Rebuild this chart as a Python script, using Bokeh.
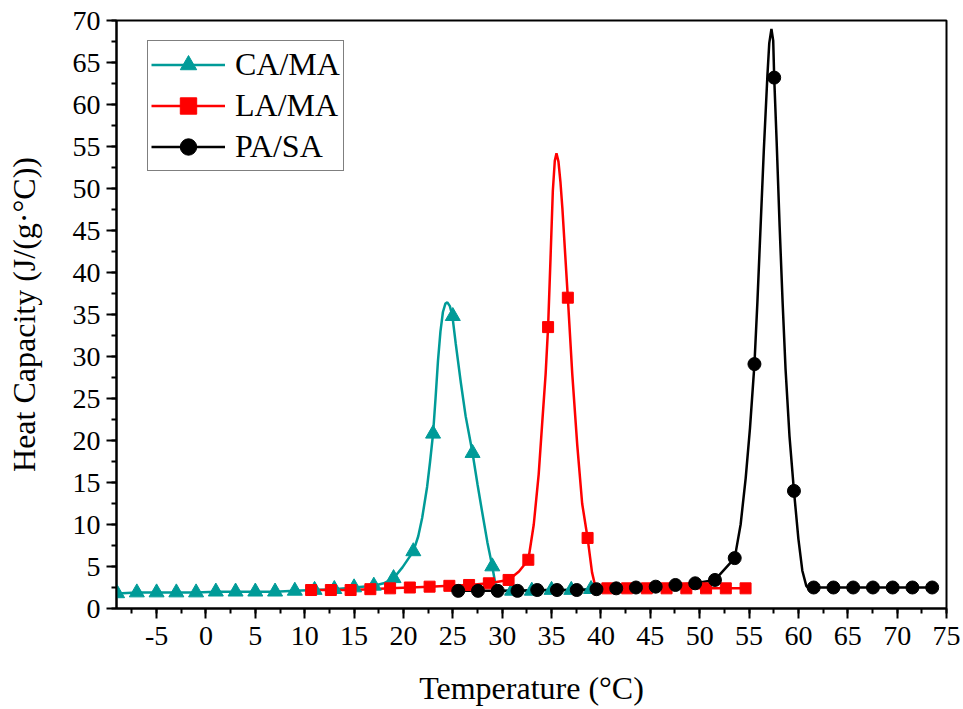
from bokeh.plotting import figure
from bokeh.models import Range1d, SingleIntervalTicker, Legend, LegendItem
from bokeh.embed import file_html
from bokeh.resources import INLINE

# ---------------- data ----------------
series_names = ["CA/MA", "LA/MA", "PA/SA"]

# CA/MA markers
ca_marker_x = [-9, -7, -5, -3, -1, 1, 3, 5, 7, 9, 11, 13, 15, 17, 19, 21, 23, 25, 27, 29, 31, 33, 35, 37, 39]
ca_marker_y = [1.8, 1.9, 1.9, 1.9, 1.9, 2.0, 2.0, 2.0, 2.0, 2.1, 2.2, 2.3, 2.5, 2.7, 3.6, 6.8, 20.8, 34.8, 18.5, 5.0, 2.1, 2.1, 2.2, 2.2, 2.3]
# CA/MA curve
ca_line_x = [-9, -7, -5, -3, -1, 1, 3, 5, 7, 9, 11, 13, 15, 17, 18, 19, 19.9, 21, 21.5, 21.9, 22.4, 22.7, 23, 23.25, 23.5,
             23.75, 24.0, 24.25, 24.45, 24.7, 24.95, 25.3, 25.8, 26.3, 27, 27.5, 28, 28.5, 29, 29.3, 29.6, 30, 31, 33, 35, 37, 39]
ca_line_y = [1.8, 1.9, 1.9, 1.9, 1.9, 2.0, 2.0, 2.0, 2.0, 2.1, 2.2, 2.3, 2.5, 2.7, 3.0, 3.6, 4.9, 6.8, 8.6, 10.8, 14.5, 17.5, 20.8, 25.0, 29.5,
             33.0, 35.3, 36.3, 36.45, 36.0, 34.9, 31.5, 27.0, 22.9, 18.5, 14.8, 11.3, 7.9, 5.0, 3.0, 2.2, 2.1, 2.1, 2.1, 2.2, 2.2, 2.3]

# LA/MA markers
la_marker_x = [10.65, 12.65, 14.65, 16.65, 18.65, 20.65, 22.65, 24.65, 26.65, 28.65, 30.65, 32.65, 34.65, 36.65, 38.65,
               40.65, 42.65, 44.65, 46.65, 48.65, 50.65, 52.65, 54.65]
la_marker_y = [2.2, 2.2, 2.2, 2.3, 2.4, 2.5, 2.6, 2.7, 2.8, 3.0, 3.4, 5.8, 33.5, 37.0, 8.4,
               2.4, 2.4, 2.4, 2.4, 2.4, 2.4, 2.4, 2.4]
# LA/MA curve
la_line_x = [10.65, 12.65, 14.65, 16.65, 18.65, 20.65, 22.65, 24.65, 26.65, 28.65, 30.65, 31.7, 32.65, 33.2, 33.7, 34.05,
             34.4, 34.65, 34.9, 35.13, 35.33, 35.5, 35.7, 35.9, 36.1, 36.65, 37.1, 37.6, 38.1, 38.65, 39.1, 39.4, 39.8,
             40.65, 42.65, 44.65, 46.65, 48.65, 50.65, 52.65, 54.65]
la_line_y = [2.2, 2.2, 2.2, 2.3, 2.4, 2.5, 2.6, 2.7, 2.8, 3.0, 3.4, 4.4, 5.8, 10.0, 16.0, 22.0,
             27.9, 33.5, 41.8, 49.7, 53.3, 54.2, 53.2, 50.8, 47.6, 37.0, 27.9, 19.5, 12.5, 8.4, 4.3, 2.8, 2.4,
             2.4, 2.4, 2.4, 2.4, 2.4, 2.4, 2.4, 2.4]

# PA/SA markers
pa_marker_x = [25.55, 27.55, 29.55, 31.55, 33.55, 35.55, 37.55, 39.55, 41.55, 43.55, 45.55, 47.55, 49.55, 51.55, 53.55,
               55.55, 57.55, 59.55, 61.55, 63.55, 65.55, 67.55, 69.55, 71.55, 73.55]
pa_marker_y = [2.1, 2.1, 2.1, 2.1, 2.2, 2.2, 2.2, 2.3, 2.4, 2.5, 2.6, 2.8, 3.0, 3.4, 6.0,
               29.1, 63.2, 14.0, 2.5, 2.5, 2.5, 2.5, 2.5, 2.5, 2.5]
# PA/SA curve
pa_line_x = [25.55, 27.55, 29.55, 31.55, 33.55, 35.55, 37.55, 39.55, 41.55, 43.55, 45.55, 47.55, 49.55, 51.55, 53.55,
             54.15, 54.66, 55.1, 55.55, 55.85, 56.1, 56.5, 56.86, 57.05, 57.27, 57.45, 57.55, 57.8, 58.1, 58.4, 58.7,
             59.1, 59.55, 60.0, 60.4, 60.8, 61.1, 61.55, 63.55, 65.55, 67.55, 69.55, 71.55, 73.55]
pa_line_y = [2.1, 2.1, 2.1, 2.1, 2.2, 2.2, 2.2, 2.3, 2.4, 2.5, 2.6, 2.8, 3.0, 3.4, 6.0,
             10.0, 15.5, 21.5, 29.1, 36.5, 43.5, 54.6, 63.4, 67.3, 69.0, 67.6, 63.2, 55.5, 45.5, 36.5, 28.5,
             20.5, 14.0, 8.3, 4.5, 2.7, 2.3, 2.5, 2.5, 2.5, 2.5, 2.5, 2.5, 2.5]

x_label = "Temperature (°C)"
y_label = "Heat Capacity (J/(g·°C))"

# ---------------- styling ----------------
TEAL = "#009B98"
RED = "#FF0000"
BLACK = "#000000"
FONT = "Liberation Serif"

p = figure(width=963, height=709, output_backend="svg", toolbar_location=None,
           x_range=Range1d(-9.06, 75), y_range=Range1d(0, 70))
p.min_border_left = 116
p.min_border_right = 17
p.min_border_top = 20
p.min_border_bottom = 101
p.grid.visible = False
p.outline_line_color = "black"
p.outline_line_width = 2
p.background_fill_color = "white"
p.border_fill_color = "white"

p.xaxis.ticker = SingleIntervalTicker(interval=5, num_minor_ticks=2)
p.yaxis.ticker = SingleIntervalTicker(interval=5, num_minor_ticks=2)
p.xaxis.major_label_overrides = {-5: "-5"}

for ax in (p.xaxis, p.yaxis):
    ax.axis_line_width = 2
    ax.axis_line_color = "black"
    ax.major_tick_line_width = 2
    ax.minor_tick_line_width = 2
    ax.major_tick_out = 10
    ax.major_tick_in = 0
    ax.minor_tick_out = 5
    ax.minor_tick_in = 0
    ax.major_label_text_font = FONT
    ax.major_label_text_font_size = "28px"
    ax.major_label_text_color = "black"
    ax.axis_label_text_font = FONT
    ax.axis_label_text_font_size = "32px"
    ax.axis_label_text_font_style = "normal"
    ax.axis_label_text_color = "black"

p.xaxis.axis_label = x_label
p.yaxis.axis_label = y_label
p.xaxis.major_label_standoff = 8
p.yaxis.major_label_standoff = 6
p.xaxis.axis_label_standoff = 22
p.yaxis.axis_label_standoff = 28

LW = 2.5
l_ca = p.line(ca_line_x, ca_line_y, line_color=TEAL, line_width=LW)
l_la = p.line(la_line_x, la_line_y, line_color=RED, line_width=LW)
l_pa = p.line(pa_line_x, pa_line_y, line_color=BLACK, line_width=LW)

m_ca = p.scatter(ca_marker_x, ca_marker_y, marker="triangle", size=15, fill_color=TEAL, line_color=TEAL)
m_la = p.scatter(la_marker_x, la_marker_y, marker="square", size=11, fill_color=RED, line_color=RED)
m_pa = p.scatter(pa_marker_x, pa_marker_y, marker="circle", size=13, fill_color=BLACK, line_color=BLACK)

legend = Legend(items=[
    LegendItem(label=series_names[0], renderers=[l_ca, m_ca]),
    LegendItem(label=series_names[1], renderers=[l_la, m_la]),
    LegendItem(label=series_names[2], renderers=[l_pa, m_pa]),
], location=(31, 437))
legend.label_text_font = FONT
legend.label_text_font_size = "32px"
legend.label_text_color = "black"
legend.border_line_color = "black"
legend.border_line_width = 1.5
legend.background_fill_alpha = 1
legend.padding = 3
legend.margin = 0
legend.spacing = 0
legend.glyph_width = 74
legend.glyph_height = 41
legend.label_height = 41
legend.label_standoff = 10
p.add_layout(legend, "center")

open("out.html", "w").write(file_html(p, INLINE))
